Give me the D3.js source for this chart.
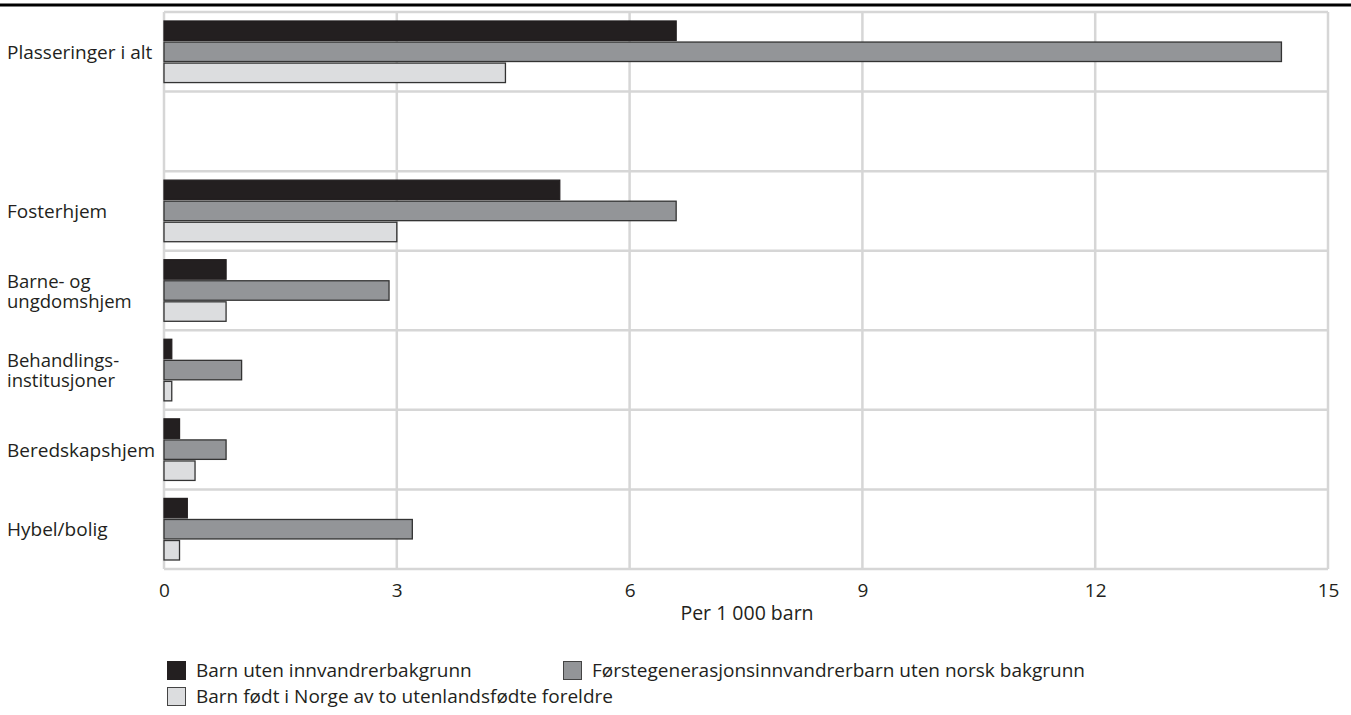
<!DOCTYPE html>
<html>
<head>
<meta charset="utf-8">
<script src="https://cdn.jsdelivr.net/npm/d3@7"></script>
<style>
  html, body { margin: 0; padding: 0; background: #fff; }
  svg { display: block; font-family: "Open Sans", "DejaVu Sans", sans-serif; }
</style>
</head>
<body>
<svg id="chart" width="1351" height="715"></svg>
<script>
const categories = ["Plasseringer i alt", "", "Fosterhjem", "Barne- og\nungdomshjem", "Behandlings-\ninstitusjoner", "Beredskapshjem", "Hybel/bolig"];
const seriesNames = ["Barn uten innvandrerbakgrunn", "Førstegenerasjonsinnvandrerbarn uten norsk bakgrunn", "Barn født i Norge av to utenlandsfødte foreldre"];
const barnUten = [6.6, null, 5.1, 0.8, 0.1, 0.2, 0.3];
const forstegen = [14.4, null, 6.6, 2.9, 1.0, 0.8, 3.2];
const fodtINorge = [4.4, null, 3.0, 0.8, 0.1, 0.4, 0.2];
const xTicks = [0, 3, 6, 9, 12, 15];
const xTitle = "Per 1 000 barn";
const colors = ["#231f20", "#939598", "#dcdddf"];

const seriesValues = [barnUten, forstegen, fodtINorge];
const svg = d3.select("#chart");
const plotL = 164, plotR = 1328, plotT = 12, plotB = 569;
const textColor = "#231f20";
const gridColor = "#d6d6d6";
const fs = 19;

// top rule
svg.append("line").attr("x1", 0).attr("x2", 1351).attr("y1", 5).attr("y2", 5)
  .attr("stroke", "#000").attr("stroke-width", 3);

const x = d3.scaleLinear().domain([0, 15]).range([plotL, plotR]);
const y = d3.scaleBand().domain(categories.map((c, i) => i)).range([plotT, plotB]).paddingInner(0).paddingOuter(0);
const ySub = d3.scaleBand().domain(d3.range(seriesNames.length))
  .range([9, y.bandwidth() - 9]).paddingInner(0.075);

// grid
const grid = svg.append("g");
xTicks.forEach(t => {
  grid.append("line").attr("x1", x(t)).attr("x2", x(t)).attr("y1", plotT).attr("y2", plotB)
    .attr("stroke", gridColor).attr("stroke-width", 2.5);
});
const hLines = categories.map((c, i) => y(i)).concat([plotB]);
hLines.forEach(v => {
  grid.append("line").attr("x1", plotL).attr("x2", plotR).attr("y1", v).attr("y2", v)
    .attr("stroke", gridColor).attr("stroke-width", 2.5);
});

// bars
const bars = svg.append("g");
categories.forEach((c, i) => {
  seriesValues.forEach((vals, s) => {
    const v = vals[i];
    if (v == null) return;
    bars.append("rect")
      .attr("x", x(0))
      .attr("y", y(i) + ySub(s))
      .attr("width", x(v) - x(0))
      .attr("height", ySub.bandwidth())
      .attr("fill", colors[s])
      .attr("stroke", s === 0 ? colors[0] : "#333")
      .attr("stroke-width", 1.3);
  });
});

// category labels
const labels = svg.append("g").attr("fill", textColor);
categories.forEach((c, i) => {
  if (!c) return;
  const lines = c.split("\n");
  const cy = y(i) + y.bandwidth() / 2;
  const t = labels.append("text").attr("x", 7).attr("font-size", lines.length > 1 ? 18.5 : fs);
  lines.forEach((ln, k) => {
    t.append("tspan").attr("x", 7)
      .attr("y", cy + 7 + (k - (lines.length - 1) / 2) * 20)
      .text(ln);
  });
});

// x axis
const xAxis = d3.axisBottom(x).tickValues(xTicks).tickSize(0).tickPadding(0).tickFormat(d3.format("d"));
const ax = svg.append("g").attr("transform", `translate(0, ${plotB})`).call(xAxis);
ax.select(".domain").remove();
ax.selectAll("text").attr("font-size", 19).attr("fill", textColor)
  .attr("font-family", "'Open Sans', sans-serif").attr("dy", 0).attr("y", 28);

svg.append("text").attr("x", (x(0) + x(15)) / 2 + 1).attr("y", 620)
  .attr("text-anchor", "middle").attr("font-size", 19.5).attr("fill", textColor).text(xTitle);

// legend
const legendPos = [[167, 661], [563, 661], [167, 687]];
const lg = svg.append("g");
seriesNames.forEach((n, s) => {
  const [lx, ly] = legendPos[s];
  lg.append("rect").attr("x", lx + 0.5).attr("y", ly + 0.5).attr("width", 18).attr("height", 18)
    .attr("fill", colors[s]).attr("stroke", s === 0 ? colors[0] : "#444").attr("stroke-width", 1);
  lg.append("text").attr("x", lx + 29).attr("y", ly + 15.5).attr("font-size", 19)
    .attr("fill", textColor).text(n);
});
</script>
</body>
</html>
